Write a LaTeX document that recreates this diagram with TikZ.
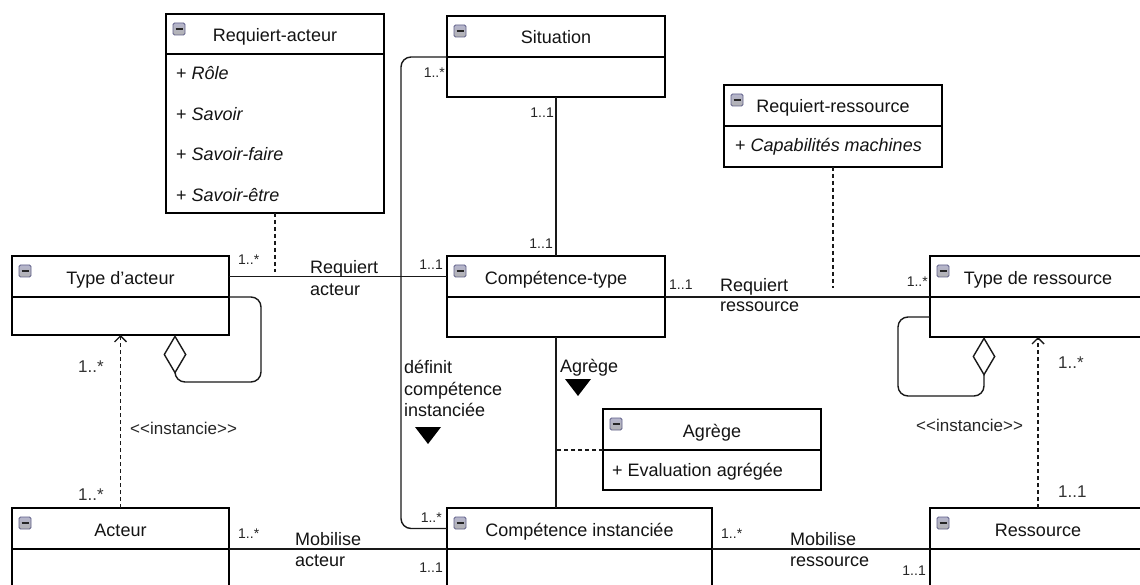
\documentclass[tikz,border=0pt]{standalone}
\usepackage{fontspec}
\setmainfont{Liberation Sans}
\usetikzlibrary{arrows.meta}

% One UML class: name, x, y, width, total height, header height, title
\newcommand\umlclass[7]{%
  \node[classbody, minimum width=#4pt, minimum height=#5pt] (#1) at (#2,#3) {};
  \node[classhead, minimum width=#4pt, minimum height=#6pt] (#1h) at (#2,#3) {#7};
  \draw[minusbox] ([shift={(7,9)}]#1.north west) rectangle ++(12,12);
  \draw[minusbar] ([shift={(9.5,15)}]#1.north west) -- ++(7,0);
}

\begin{document}
\begin{tikzpicture}[x=1pt, y=-1pt,
  classbody/.style={draw=black, line width=1.6pt, rectangle, inner sep=0pt, outer sep=0pt, anchor=north west},
  classhead/.style={draw=black, line width=1.6pt, rectangle, inner sep=0pt, outer sep=0pt, anchor=north west,
    font=\fontsize{18}{21}\selectfont, text=black!92, text height=19pt, text depth=4pt},
  minusbox/.style={draw=black!35!blue!25!gray, line width=0.9pt, rounded corners=1.5pt,
    top color=white!85!blue!60!gray, bottom color=black!30},
  minusbar/.style={draw=black!85, line width=1.8pt},
  attr/.style={anchor=base west, inner sep=0pt, font=\fontsize{18}{21}\selectfont, text=black!92},
  lbl/.style={anchor=base west, inner sep=0pt, font=\fontsize{18}{21}\selectfont, text=black!92},
  mult/.style={inner sep=0pt, font=\fontsize{14}{16}\selectfont, text=black!85},
  bigmult/.style={inner sep=0pt, font=\fontsize{17}{20}\selectfont, text=black!80},
  stereo/.style={anchor=base west, inner sep=0pt, font=\fontsize{17}{20}\selectfont, text=black!85},
  assoc/.style={draw=black!90, line width=1.4pt},
  link/.style={draw=black!90, line width=1.4pt, dash pattern=on 4pt off 3pt},
  realize/.style={draw=black!90, line width=1.4pt, dash pattern=on 4pt off 3pt,
    -{Straight Barb[length=6pt, width=12pt, line width=1.4pt]}},
  aggr/.style={draw=black!90, line width=1.4pt, rounded corners=10pt,
    -{Diamond[open, length=39pt, width=23pt, line width=1.4pt]}},
  navtri/.style={fill=black}
]
\useasboundingbox (0,0) rectangle (1140,585);
\clip (0,0) rectangle (1140,585);
\fill[white] (0,0) rectangle (1140,585);

% ---- classes ----
\umlclass{ra}{166}{14}{218}{199}{40}{Requiert-acteur}
\umlclass{sit}{447}{16}{218}{81}{41}{Situation}
\umlclass{rr}{724}{85}{218}{82}{41}{Requiert-ressource}
\umlclass{ta}{12}{256}{217}{79}{41}{Type d'acteur}
\umlclass{ct}{447}{256}{218}{81}{41}{Compétence-type}
\umlclass{tr}{930}{256}{216}{81}{41}{Type de ressource}
\umlclass{ag}{603}{409}{218}{81}{41}{Agrège}
\umlclass{ac}{12}{508}{217}{120}{41}{Acteur}
\umlclass{ci}{447}{508}{265}{120}{41}{Compétence instanciée}
\umlclass{re}{930}{508}{216}{120}{41}{Ressource}

% ---- attributes ----
\node[attr] at (176,80) {+ \textit{Rôle}};
\node[attr] at (176,121) {+ \textit{Savoir}};
\node[attr] at (176,161) {+ \textit{Savoir-faire}};
\node[attr] at (176,202) {+ \textit{Savoir-être}};
\node[attr] at (735,152) {+ \textit{Capabilités machines}};
\node[attr] at (612,476) {+ Evaluation agrégée};

% ---- associations ----
% Requiert acteur
\draw[assoc] (tah.east) -- (cth.west);
\coordinate (raj) at (ra.south |- tah.east);
\draw[link] (ra.south) -- ([shift={(0,-4)}]raj);
\node[mult, anchor=base west] at (238,265) {1..*};
\node[mult, anchor=base east] at (443,270) {1..1};
\node[lbl] at (310,274) {Requiert};
\node[lbl] at (310,295) {acteur};

% Situation -- Compétence-type
\draw[assoc] (sit.south) -- (ct.north);
\node[mult, anchor=base east] at (554,118) {1..1};
\node[mult, anchor=base east] at (553,249) {1..1};

% définit compétence instanciée
\draw[assoc, rounded corners=10pt] (sith.south west) -- ++(-46,0) |- (cih.west);
\node[mult, anchor=base east] at (445,78) {1..*};
\node[mult, anchor=base east] at (442,522) {1..*};
\node[lbl] at (404,373) {définit};
\node[lbl] at (404,395) {compétence};
\node[lbl] at (404,416) {instanciée};
\fill[navtri] (415,427) -- (441,427) -- (428,444) -- cycle;

% Agrège (Compétence-type -- Compétence instanciée)
\draw[assoc] (ct.south) -- (ct.south |- ci.north);
\draw[link] (agh.south west) -- (agh.south west -| ct.south);
\node[lbl] at (560,372) {Agrège};
\fill[navtri] (565,379) -- (591,379) -- (578,396) -- cycle;

% Requiert ressource
\draw[assoc] (cth.south east) -- (trh.south west);
\coordinate (rrj) at (rr.south |- cth.south east);
\draw[link] (rr.south) -- ([shift={(0,-9)}]rrj);
\node[mult, anchor=base west] at (669,290) {1..1};
\node[mult, anchor=base east] at (928,287) {1..*};
\node[lbl] at (720,291) {Requiert};
\node[lbl] at (720,312) {ressource};

% self aggregation on Type d'acteur
\coordinate (tadia) at ([shift={(163,0)}]ta.south west);
\draw[aggr] (tah.south east) -- ++(32,0) -- ++(0,85) -- ++(-86,0) -- (tadia);

% self aggregation on Type de ressource
\coordinate (trdia) at ([shift={(54,0)}]tr.south west);
\draw[aggr] ([shift={(0,20)}]trh.south west) -- ++(-32,0) -- ++(0,79) -- ++(86,0) -- (trdia);

% instancie (Acteur -> Type d'acteur)
\draw[realize] (ac.north) -- (ta.south);
\node[bigmult, anchor=base west] at (78,372) {1..*};
\node[bigmult, anchor=base west] at (78,500) {1..*};
\node[stereo] at (130,434) {<{}<instancie>{}>};

% instancie (Ressource -> Type de ressource)
\draw[realize] (re.north) -- (tr.south);
\node[bigmult, anchor=base west] at (1058,368) {1..*};
\node[bigmult, anchor=base west] at (1058,497) {1..1};
\node[stereo] at (916,431) {<{}<instancie>{}>};

% Mobilise acteur
\draw[assoc] (ach.south east) -- (cih.south west);
\node[mult, anchor=base west] at (238,538) {1..*};
\node[mult, anchor=base east] at (443,572) {1..1};
\node[lbl] at (295,545) {Mobilise};
\node[lbl] at (295,566) {acteur};

% Mobilise ressource
\draw[assoc] (cih.south east) -- (reh.south west);
\node[mult, anchor=base west] at (721,538) {1..*};
\node[mult, anchor=base east] at (926,575) {1..1};
\node[lbl] at (790,545) {Mobilise};
\node[lbl] at (790,566) {ressource};
\end{tikzpicture}
\end{document}
